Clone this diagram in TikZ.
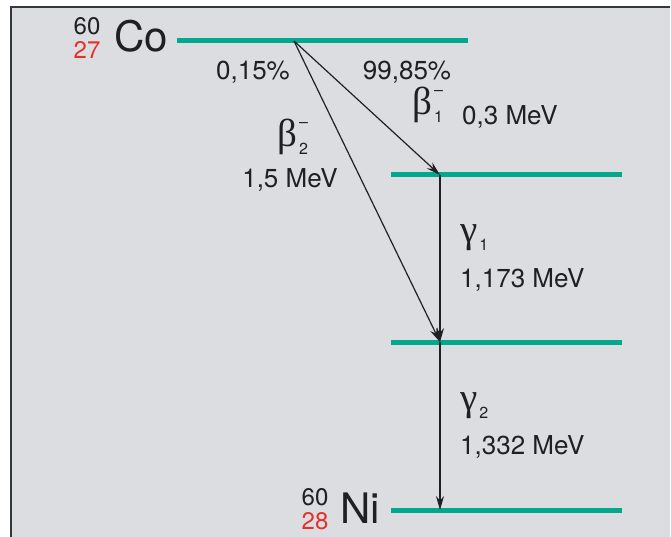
\documentclass[tikz,border=0pt]{standalone}
\usepackage{fontspec}
\setmainfont{TeX Gyre Heros}
\newfontfamily\greekfont{Liberation Serif}
\usetikzlibrary{arrows.meta}
\definecolor{levelgreen}{HTML}{00A88E}
\definecolor{paper}{HTML}{DCDDE0}
\definecolor{isored}{HTML}{E5302A}
\definecolor{ink}{HTML}{1E2124}
% greek symbol with small superscript and subscript
\newcommand\decaysym[3]{{\greekfont #1}\kern2pt\makebox[0pt][l]{\raisebox{19pt}{\fontsize{16}{16}\selectfont #2}}%
  \raisebox{-8pt}{\fontsize{16}{16}\selectfont #3}}
\begin{document}
\begin{tikzpicture}[x=1pt,y=-1pt,
  lvl/.style={levelgreen,line width=5pt},
  decay/.style={ink,line width=1.2pt,-{Stealth[length=14pt,width=8pt]}},
  txt/.style={ink,inner sep=0pt,anchor=base,font=\fontsize{26}{30}\selectfont},
  iso/.style={txt,font=\fontsize{24}{28}\selectfont},
  elem/.style={txt,anchor=base west,font=\fontsize{42}{44}\selectfont},
  greek/.style={txt,anchor=base west,font=\fontsize{39}{42}\selectfont}]
\useasboundingbox (0,0) rectangle (671,537);
% frame
\fill[paper] (11,7) rectangle (670,537);
\draw[ink!90,line width=2pt] (11,537) -- (11,7) -- (670,7);
% energy levels
\draw[lvl] (177,41) -- (468,41);
\coordinate (co) at (294,41);
\foreach \y/\n in {175/e1,342/e2,510/gs}{
  \draw[lvl] (391,\y) -- (622,\y);
  \coordinate (\n) at (440,\y);}
% nuclides
\node[iso] (co-a) at (87,35) {60};
\node[iso,isored] (co-z) at (87,58.5) {27};
\node[elem] (co-sym) at (114,52) {Co};
\node[iso] (ni-a) at (315,505.5) {60};
\node[iso,isored] (ni-z) at (315,529) {28};
\node[elem] (ni-sym) at (340,523) {Ni};
% transitions
\draw[decay] (co) -- (e1);
\draw[decay] (co) -- (e2);
\draw[decay] (e1) -- (e2);
\draw[decay] (e2) -- (gs);
% labels
\node[txt] (p2) at (253,80) {0,15\%};
\node[txt] (p1) at (407,80) {99,85\%};
\node[greek] (b1) at (412,115) {\decaysym{β}{–}{1}};
\node[txt,anchor=base west] (b1e) at (462,125) {0,3 MeV};
\node[greek] (b2) at (277,147) {\decaysym{β}{–}{2}};
\node[txt] (b2e) at (290,188) {1,5 MeV};
\node[greek] (g1) at (460,243) {\decaysym{γ}{}{1}};
\node[txt,anchor=base west] (g1e) at (460,287) {1,173 MeV};
\node[greek] (g2) at (460,410) {\decaysym{γ}{}{2}};
\node[txt,anchor=base west] (g2e) at (460,454) {1,332 MeV};
\end{tikzpicture}
\end{document}
